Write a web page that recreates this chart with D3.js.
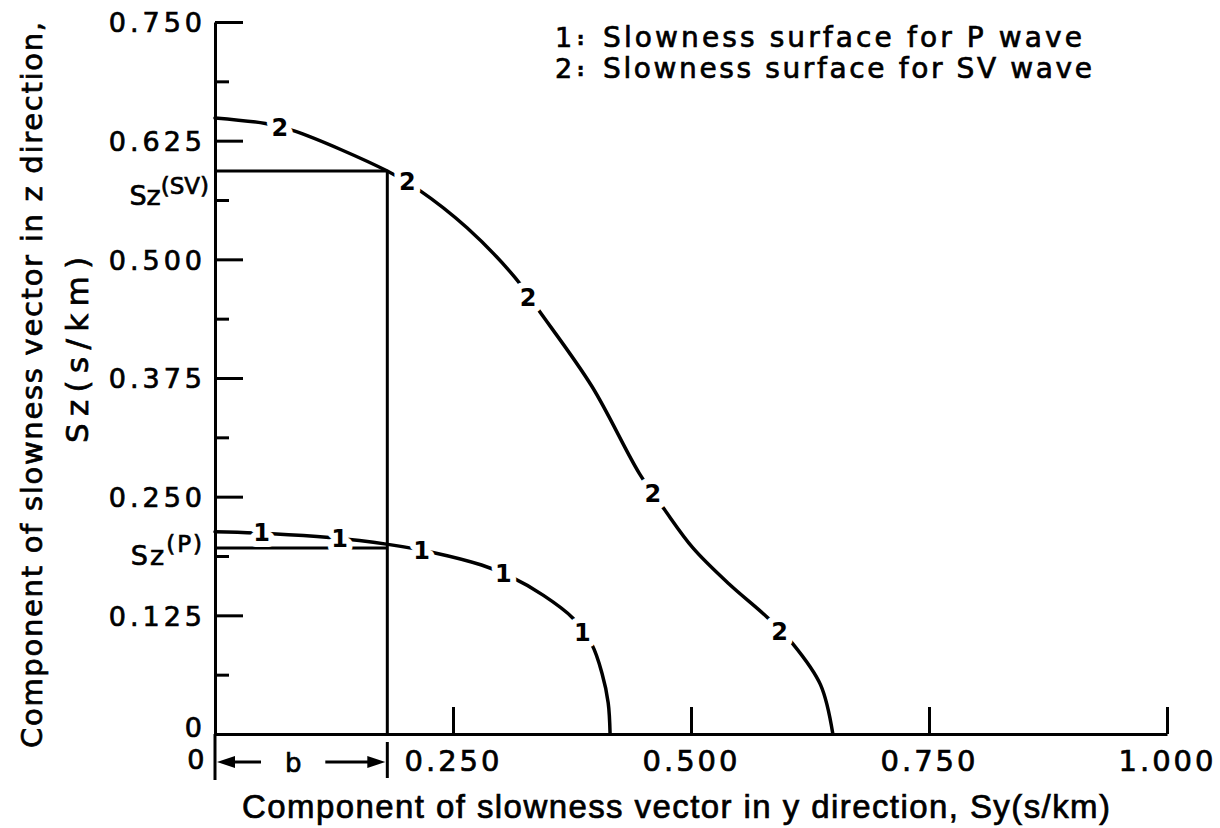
<!DOCTYPE html>
<html><head><meta charset="utf-8">
<script src="https://cdn.jsdelivr.net/npm/d3@7"></script>
<style>body{margin:0;background:#fff}svg{display:block;background:#fff}</style>
</head><body>
<svg id="c" width="1220" height="828"></svg>
<script>
// ---- data ----
const yMajor = [0, 0.125, 0.250, 0.375, 0.500, 0.625, 0.750];
const yMajorLabels = ["0", "0.125", "0.250", "0.375", "0.500", "0.625", "0.750"];
const yMinor = [0.0625, 0.1875, 0.3125, 0.4375, 0.5625, 0.6875];
const xMajor = [0, 0.25, 0.5, 0.75, 1.0];
const xMajorLabels = ["0", "0.250", "0.500", "0.750", "1.000"];

// P wave slowness surface (curve 1): [Sy, Sz]
const pCurve = [[0,0.213],[0.06,0.211],[0.12,0.207],[0.18,0.200],[0.23,0.191],[0.28,0.178],
  [0.31,0.166],[0.345,0.146],[0.376,0.122],[0.396,0.094],[0.4065,0.064],[0.413,0.033],[0.415,0]];
const pLabels = [[0.049,0.212],[0.131,0.206],[0.217,0.193],[0.303,0.169],[0.386,0.107]];
// SV wave slowness surface (curve 2)
const svCurve = [[0,0.649],[0.053,0.643],[0.084,0.635],[0.181,0.593],[0.213,0.574],[0.265,0.533],
  [0.315,0.481],[0.341,0.445],[0.396,0.366],[0.446,0.274],[0.471,0.238],[0.502,0.196],[0.54,0.158],
  [0.580,0.123],[0.607,0.095],[0.636,0.052],[0.649,0]];
const svLabels = [[0.068,0.639],[0.202,0.582],[0.329,0.460],[0.460,0.254],[0.593,0.108]];

const bValue = 0.181;     // Sy value b
const szSV = 0.593;       // Sz(SV)
const szP = 0.196;        // Sz(P)

const legendLines = [["1", "Slowness surface for P wave"], ["2", "Slowness surface for SV wave"]];
const xTitle = "Component of slowness vector in y direction, Sy(s/km)";
const yTitle1 = "Component of slowness vector in z direction,";
const yTitle2 = "Sz(s/km)";

// ---- drawing ----
const svg = d3.select("#c");
const x = d3.scaleLinear().domain([0, 1]).range([215, 1167]);
const y = d3.scaleLinear().domain([0, 0.75]).range([734, 22]);
const F = "DejaVu Sans";

// y axis (major)
const gy = svg.append("g").attr("transform", `translate(${x(0)},0)`)
  .call(d3.axisLeft(y).tickValues(yMajor).tickFormat((d, i) => yMajorLabels[i])
    .tickSize(-28).tickSizeOuter(0).tickPadding(9));
gy.select(".domain").attr("stroke", "#000").attr("stroke-width", 3);
gy.selectAll(".tick line").attr("stroke", "#000").attr("stroke-width", 3);
gy.selectAll(".tick text").attr("font-family", F).attr("font-size", 27)
  .attr("letter-spacing", 4).attr("fill", "#000").attr("dy", "0.36em");
gy.selectAll(".tick").filter(d => d === 0).select("text").attr("dy", "0.1em");

// y axis (minor)
const gym = svg.append("g").attr("transform", `translate(${x(0)},0)`)
  .call(d3.axisLeft(y).tickValues(yMinor).tickFormat("").tickSize(-14).tickSizeOuter(0));
gym.select(".domain").remove();
gym.selectAll(".tick line").attr("stroke", "#000").attr("stroke-width", 3);

// x axis
const gx = svg.append("g").attr("transform", `translate(0,${y(0)})`)
  .call(d3.axisBottom(x).tickValues(xMajor).tickFormat((d, i) => xMajorLabels[i])
    .tickSize(-27).tickSizeOuter(0).tickPadding(16));
gx.select(".domain").attr("stroke", "#000").attr("stroke-width", 3);
gx.selectAll(".tick line").attr("stroke", "#000").attr("stroke-width", 3);
gx.selectAll(".tick text").attr("font-family", F).attr("font-size", 29)
  .attr("letter-spacing", 3).attr("fill", "#000");
gx.selectAll(".tick").filter(d => d === 0).select("text")
  .attr("text-anchor", "end").attr("x", -8).attr("font-size", 27);

// curves
const line = d3.line().x(d => x(d[0])).y(d => y(d[1])).curve(d3.curveCatmullRom.alpha(0.5));
svg.append("path").datum(pCurve).attr("d", line).attr("fill", "none")
  .attr("stroke", "#000").attr("stroke-width", 3.5).attr("stroke-linecap", "round");
svg.append("path").datum(svCurve).attr("d", line).attr("fill", "none")
  .attr("stroke", "#000").attr("stroke-width", 3.5).attr("stroke-linecap", "round");

// construction lines
svg.append("line").attr("x1", x(0)).attr("x2", x(bValue)).attr("y1", y(szSV)).attr("y2", y(szSV))
  .attr("stroke", "#000").attr("stroke-width", 3);
svg.append("line").attr("x1", x(0)).attr("x2", x(bValue)).attr("y1", y(szP)).attr("y2", y(szP))
  .attr("stroke", "#000").attr("stroke-width", 3);
svg.append("line").attr("x1", x(bValue)).attr("x2", x(bValue)).attr("y1", y(szSV)).attr("y2", y(0))
  .attr("stroke", "#000").attr("stroke-width", 3);

// curve labels with white halo
function labels(data, txt, halo) {
  svg.append("g").selectAll("text").data(data).join("text")
    .attr("class", "halo")
    .attr("x", d => x(d[0])).attr("y", d => y(d[1])).attr("dy", "0.36em")
    .attr("text-anchor", "middle").attr("font-family", F).attr("font-size", 24)
    .attr("font-weight", "bold")
    .attr("fill", "#000").attr("stroke", "#fff").attr("stroke-width", halo)
    .attr("paint-order", "stroke").attr("stroke-linejoin", "round").text(txt);
}
labels(pLabels, "1", 12);
labels(svLabels, "2", 13);

// Sz(SV), Sz(P) labels
const tSV = svg.append("text").attr("x", x(0) - 6).attr("y", y(szSV) + 34)
  .attr("text-anchor", "end").attr("font-family", F).attr("font-size", 27).attr("fill", "#000");
tSV.append("tspan").text("Sz");
tSV.append("tspan").attr("dy", -11).attr("font-size", 23).text("(SV)");
const tP = svg.append("text").attr("x", x(0) - 11).attr("y", y(szP) + 17)
  .attr("text-anchor", "end").attr("font-family", F).attr("font-size", 27).attr("fill", "#000")
  .attr("letter-spacing", 2);
tP.append("tspan").text("Sz");
tP.append("tspan").attr("dy", -13).attr("font-size", 23).text("(P)");

// dimension b below axis
const yDim = 762;
svg.append("line").attr("x1", x(0)).attr("x2", x(0)).attr("y1", y(0)).attr("y2", 780)
  .attr("stroke", "#000").attr("stroke-width", 3);
svg.append("line").attr("x1", x(bValue)).attr("x2", x(bValue)).attr("y1", 742).attr("y2", 778)
  .attr("stroke", "#000").attr("stroke-width", 3);
svg.append("line").attr("x1", x(0) + 14).attr("x2", x(0) + 46).attr("y1", yDim).attr("y2", yDim)
  .attr("stroke", "#000").attr("stroke-width", 3);
svg.append("path").attr("d", `M${x(0) + 2},${yDim}L${x(0) + 20},${yDim - 6}L${x(0) + 20},${yDim + 6}Z`).attr("fill", "#000");
svg.append("line").attr("x1", x(bValue) - 62).attr("x2", x(bValue) - 16).attr("y1", yDim).attr("y2", yDim)
  .attr("stroke", "#000").attr("stroke-width", 3);
svg.append("path").attr("d", `M${x(bValue) - 2},${yDim}L${x(bValue) - 20},${yDim - 6}L${x(bValue) - 20},${yDim + 6}Z`).attr("fill", "#000");
svg.append("text").attr("x", (x(0) + x(bValue)) / 2 - 8).attr("y", yDim + 10).attr("text-anchor", "middle")
  .attr("font-family", F).attr("font-size", 26).attr("fill", "#000").text("b");

// legend
const lg = svg.append("g");
legendLines.forEach((l, i) => {
  const by = 47 + i * 31;
  lg.append("text").attr("x", 555).attr("y", by).attr("font-family", F).attr("font-size", 27)
    .attr("fill", "#000").text(l[0]);
  lg.append("text").attr("x", 577).attr("y", by - 2).attr("font-family", F).attr("font-size", 18)
    .attr("font-weight", "bold").attr("fill", "#000").text(":");
  lg.append("text").attr("x", 603).attr("y", by).attr("font-family", F).attr("font-size", 28)
    .attr("fill", "#000").attr("textLength", i === 0 ? 479 : 489).attr("lengthAdjust", "spacing").text(l[1]);
});

// axis titles
svg.append("text").attr("x", 242).attr("y", 818).attr("font-family", "Liberation Sans")
  .attr("font-size", 33).attr("fill", "#000").attr("textLength", 868).attr("lengthAdjust", "spacing")
  .text(xTitle);
svg.append("text").attr("transform", "translate(42,385) rotate(-90)").attr("text-anchor", "middle")
  .attr("font-family", F).attr("font-size", 29).attr("fill", "#000")
  .attr("textLength", 726).attr("lengthAdjust", "spacing").text(yTitle1);
svg.append("text").attr("transform", "translate(88,350) rotate(-90)").attr("text-anchor", "middle")
  .attr("font-family", F).attr("font-size", 31).attr("fill", "#000")
  .attr("textLength", 186).attr("lengthAdjust", "spacing").text(yTitle2);

// heavier strokes like the printed original
svg.selectAll("text:not(.halo)").attr("stroke", "#000").attr("stroke-width", 0.7);
</script>
</body></html>
